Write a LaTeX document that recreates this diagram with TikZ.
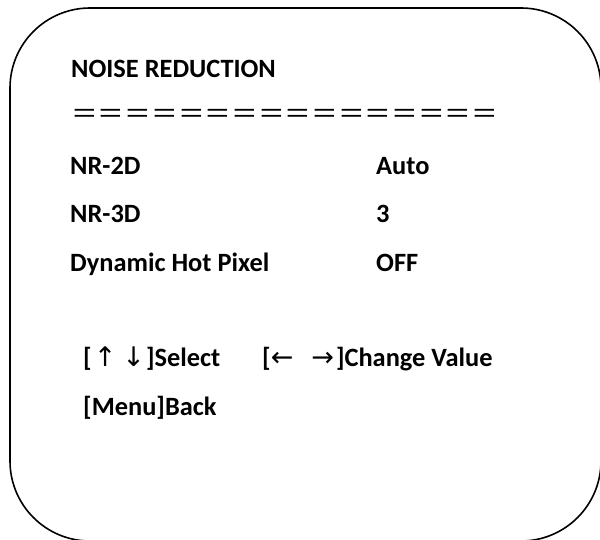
\documentclass[tikz,border=0pt]{standalone}
\usepackage{fontspec}
\setmainfont{Carlito}
\newfontfamily\arrowfont{DejaVu Sans}
\newfontfamily\cjkfont{Noto Sans CJK SC}
\newcommand\keyarrow[1]{{\mdseries\arrowfont\fontsize{27}{30}\selectfont #1}}
\begin{document}
\begin{tikzpicture}[x=1pt,y=-1pt,
  osd/.style={anchor=base west,inner sep=0pt,font=\fontsize{26.4}{30}\selectfont\bfseries},
  rule/.style={anchor=base west,inner sep=0pt,font=\fontsize{26.7}{30}\cjkfont}]
\useasboundingbox (0,0) rectangle (600,540);
% menu frame
\draw[line width=1.6pt,rounded corners=80pt] (10,8) rectangle (601,541);
% title and separator
\node[osd] (title) at (71,78) {NOISE REDUCTION};
\node[rule] (sep) at (71,124) {＝＝＝＝＝＝＝＝＝＝＝＝＝＝＝＝};
% settings
\node[osd] (nr2d) at (70,175) {NR-2D};
\node[osd] (nr2dv) at (376,175) {Auto};
\node[osd] (nr3d) at (70,223) {NR-3D};
\node[osd] (nr3dv) at (376,223) {3};
\node[osd] (dhp) at (70,272) {Dynamic Hot Pixel};
\node[osd] (dhpv) at (376,272) {OFF};
% key hints
\node[osd] (sel) at (83,366) {[\hspace{2pt}\keyarrow{↑}\hspace{6pt}\keyarrow{↓}\hspace{1pt}]Select};
\node[osd] (chg) at (262,366) {[\keyarrow{←}\hspace{18pt}\keyarrow{→}\hspace{2pt}]Change Value};
\node[osd] (back) at (83,415) {[Menu]Back};
\end{tikzpicture}
\end{document}
